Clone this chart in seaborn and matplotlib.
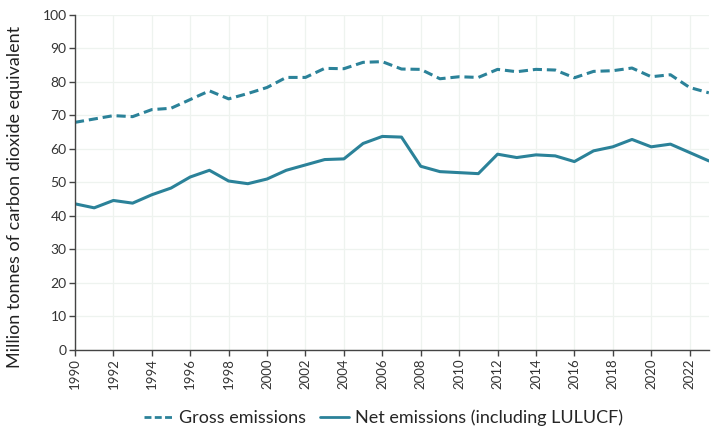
import matplotlib
matplotlib.use("Agg")
import matplotlib.pyplot as plt
import seaborn as sns
import pandas as pd
from matplotlib.lines import Line2D

years = list(range(1990, 2024))
gross = [67.9, 68.9, 69.9, 69.6, 71.7, 72.1, 74.7, 77.3, 74.9, 76.5,
         78.3, 81.3, 81.3, 84.0, 83.9, 85.8, 86.0, 83.8, 83.7, 80.9,
         81.5, 81.3, 83.7, 83.0, 83.7, 83.5, 81.2, 83.1, 83.3, 84.1,
         81.5, 82.1, 78.3, 76.7]
net = [43.6, 42.4, 44.6, 43.8, 46.3, 48.3, 51.6, 53.6, 50.4, 49.6,
       51.0, 53.6, 55.2, 56.8, 57.0, 61.6, 63.7, 63.5, 54.8, 53.2,
       52.9, 52.6, 58.4, 57.4, 58.2, 57.9, 56.2, 59.4, 60.6, 62.8,
       60.6, 61.4, 58.9, 56.4]
series_names = ["Gross emissions", "Net emissions (including LULUCF)"]
y_label = "Million tonnes of carbon dioxide equivalent"
x_ticks = list(range(1990, 2023, 2))
y_ticks = list(range(0, 101, 10))

df = pd.DataFrame({
    "Year": years * 2,
    "Value": gross + net,
    "Series": [series_names[0]] * len(years) + [series_names[1]] * len(years),
})

sns.set_theme(style="white")
plt.rcParams["font.family"] = ["Lato", "DejaVu Sans"]

color = "#2b8299"
fig = plt.figure(figsize=(7.16, 4.33), dpi=100)
ax = fig.add_axes([0.1047, 0.1917, 0.8853, 0.7743])

sns.lineplot(data=df, x="Year", y="Value", hue="Series", style="Series",
             palette=[color, color], dashes={series_names[0]: (3, 1.6), series_names[1]: ""},
             linewidth=2.2, ax=ax, legend=False)

ax.set_xlim(1990, 2023)
ax.set_ylim(0, 100)
ax.set_xticks(x_ticks)
ax.set_xticklabels([str(t) for t in x_ticks], rotation=90, fontsize=9.5, color="#333333")
ax.set_yticks(y_ticks)
ax.set_yticklabels([str(t) for t in y_ticks], fontsize=10, color="#333333")
ax.set_xlabel("")
ax.set_ylabel(y_label, fontsize=13, color="#222222")
ax.yaxis.set_label_coords(-0.082, 0.456)

ax.grid(True, color="#eef3ef", linewidth=0.9)
ax.set_axisbelow(True)
for s in ["top", "right"]:
    ax.spines[s].set_visible(False)
for s in ["left", "bottom"]:
    ax.spines[s].set_color("#444444")
    ax.spines[s].set_linewidth(1.0)
ax.tick_params(axis="both", which="major", direction="out", length=4, width=1,
               color="#444444", bottom=True, left=True, pad=2)

handles = [Line2D([0], [0], color=color, lw=2, linestyle=(0, (2.5, 1.2))),
           Line2D([0], [0], color=color, lw=2)]
fig.legend(handles, series_names, loc="center", bbox_to_anchor=(0.5356, 0.035),
           ncol=2, frameon=False, fontsize=13, handlelength=1.6,
           handletextpad=0.33, columnspacing=0.8)

fig.savefig("out.png", dpi=100)
